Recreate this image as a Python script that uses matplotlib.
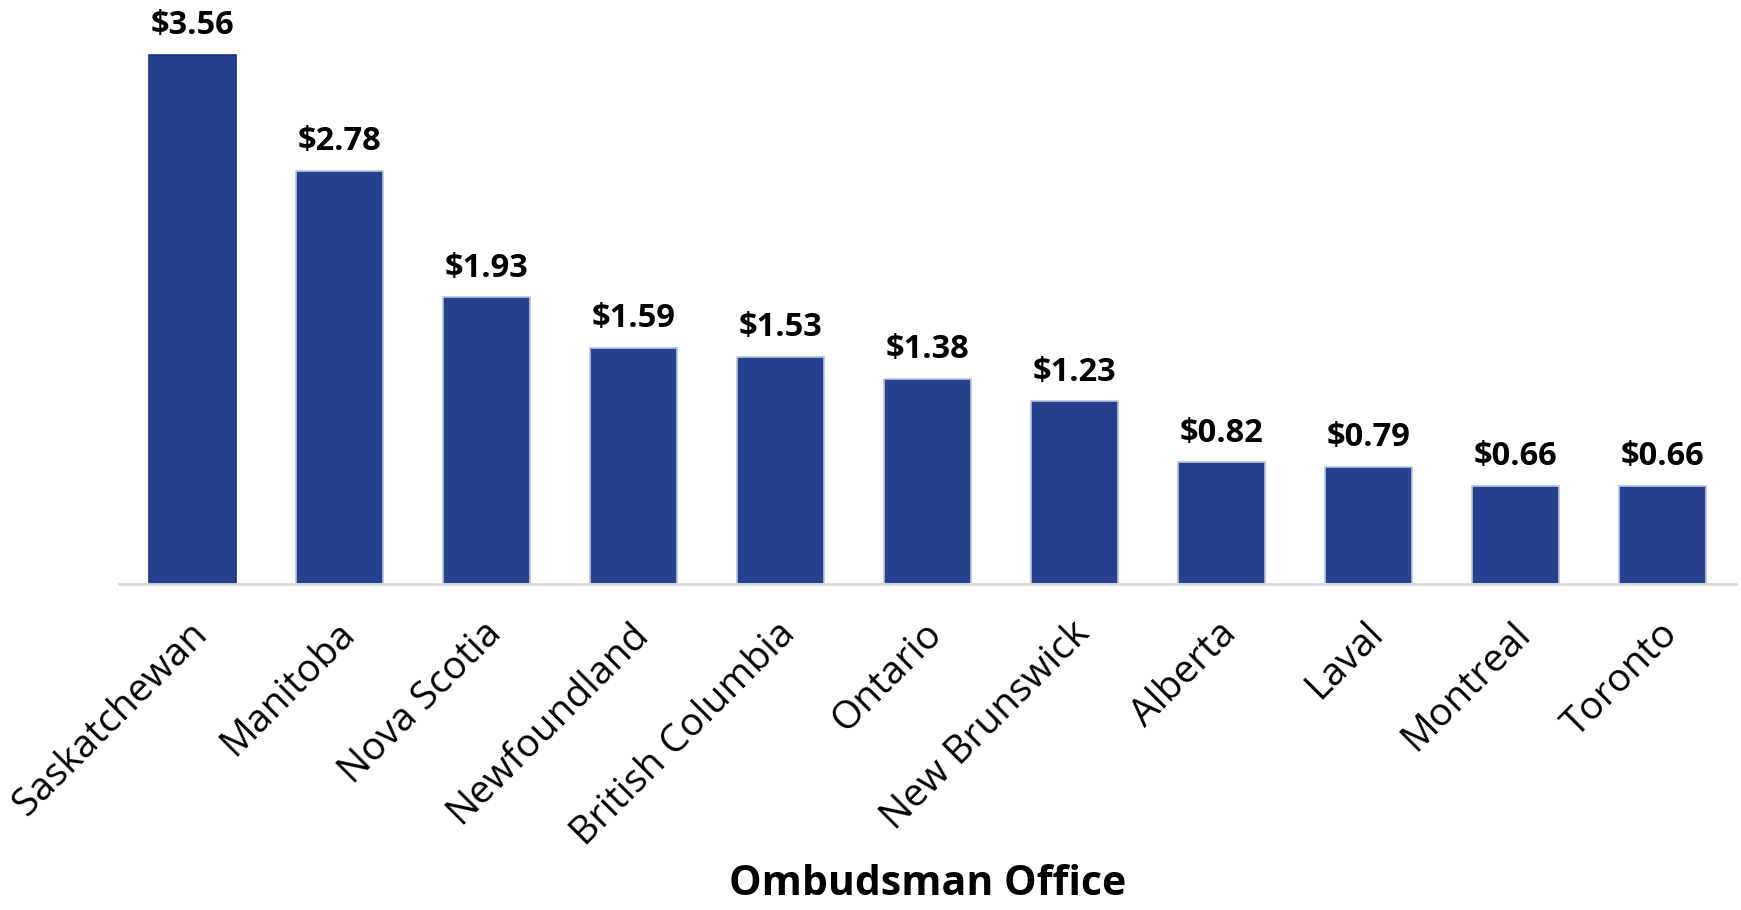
import matplotlib.pyplot as plt
from matplotlib.transforms import ScaledTranslation

plt.rcParams['font.family'] = ['Open Sans', 'DejaVu Sans']

offices = ['Saskatchewan', 'Manitoba', 'Nova Scotia', 'Newfoundland', 'British Columbia',
           'Ontario', 'New Brunswick', 'Alberta', 'Laval', 'Montreal', 'Toronto']
cost = [3.56, 2.78, 1.93, 1.59, 1.53, 1.38, 1.23, 0.82, 0.79, 0.66, 0.66]

bar_color = '#26418e'

fig = plt.figure(figsize=(17.41, 9.10), dpi=100)
ax = fig.add_axes([119 / 1741, 1 - 584 / 910, (1736 - 119) / 1741, 584 / 910])

x = range(len(offices))
edges = ['#1b2f8c'] + ['#b8c2e0'] * (len(offices) - 1)
bars = ax.bar(x, cost, width=0.59, color=bar_color, edgecolor=edges, linewidth=1.2, zorder=2)

for b, v in zip(bars, cost):
    ax.annotate('$%.2f' % v, (b.get_x() + b.get_width() / 2, v),
                xytext=(0, 9), textcoords='offset points',
                ha='center', va='bottom', fontsize=23.5, fontweight='bold')

ax.set_xlim(-0.5, len(offices) - 0.5)
ax.set_ylim(0, 3.93)
ax.set_yticks([])
for s in ['top', 'right', 'left']:
    ax.spines[s].set_visible(False)
ax.spines['bottom'].set_color('#d9d9d9')
ax.spines['bottom'].set_linewidth(2)

ax.set_xticks(list(x))
ax.set_xticklabels(offices, rotation=45, ha='right', va='top',
                   rotation_mode='anchor', fontsize=28)
ax.tick_params(axis='x', length=0, pad=22)
# nudge labels a little left, as in the original
shift = ScaledTranslation(-3 / 72, 0, fig.dpi_scale_trans)
for lab in ax.get_xticklabels():
    lab.set_transform(lab.get_transform() + shift)

ax.set_xlabel('Ombudsman Office', fontsize=29.5, fontweight='bold', va='center')
ax.xaxis.set_label_coords(0.5, -0.515)

fig.savefig('out.png', dpi=100)
